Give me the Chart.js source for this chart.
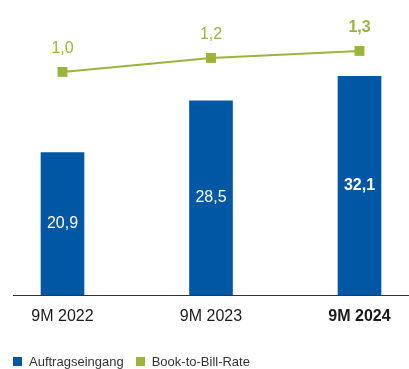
<!DOCTYPE html>
<html>
<head>
<meta charset="utf-8">
<script src="https://cdn.jsdelivr.net/npm/chart.js@4"></script>
<style>
  html, body { margin: 0; padding: 0; background: #fff; }
  #wrap { position: relative; width: 409px; height: 369px; overflow: hidden; }
  #legend { position: absolute; left: 13px; top: 354px; display: flex; align-items: center;
    font: 13px "Liberation Sans", Arial, sans-serif; color: #333; white-space: nowrap; }
  #legend .box { display: inline-block; width: 9px; height: 9px; margin-right: 7px; }
  #legend .item { display: flex; align-items: center; margin-right: 12px; }
</style>
</head>
<body>
<div id="wrap">
  <canvas id="myChart" width="409" height="369"></canvas>
  <div id="legend"></div>
</div>
<script>
// data
let periods = ['9M 2022', '9M 2023', '9M 2024'];
let orderIntake = [20.9, 28.5, 32.1];
let bookToBill = [1.0, 1.2, 1.3];
let seriesNames = ['Auftragseingang', 'Book-to-Bill-Rate'];

let blue = '#0057a3';
let green = '#9bb53a';
let fontFam = '"Liberation Sans", Arial, sans-serif';

function fmt(v){
  return v.toFixed(1).replace('.', ',');
}

// value labels on bars and points
let valueLabels = {
  id: 'valueLabels',
  afterDatasetsDraw(chart){
    let ctx = chart.ctx;
    ctx.save();
    ctx.textAlign = 'center';
    ctx.textBaseline = 'middle';
    chart.getDatasetMeta(0).data.forEach(function(el, i){
      ctx.fillStyle = '#fff';
      ctx.font = (i === 2 ? 'bold ' : '') + '16px ' + fontFam;
      ctx.fillText(fmt(orderIntake[i]), el.x, (el.y + el.base) / 2);
    });
    chart.getDatasetMeta(1).data.forEach(function(el, i){
      ctx.fillStyle = green;
      ctx.font = (i === 2 ? 'bold ' : '') + '16px ' + fontFam;
      ctx.fillText(fmt(bookToBill[i]), el.x, el.y - 23);
    });
    ctx.restore();
  }
};

let ctx = document.getElementById('myChart').getContext('2d');
let myChart = new Chart(ctx, {
  data: {
    datasets: [{
      type: 'bar',
      label: seriesNames[0],
      data: orderIntake.map((v, i) => ({x: i, y: v})),
      backgroundColor: blue,
      barThickness: 43,
      yAxisID: 'y',
      order: 2
    }, {
      type: 'line',
      label: seriesNames[1],
      data: bookToBill.map((v, i) => ({x: i, y: v})),
      borderColor: green,
      borderWidth: 2,
      pointStyle: 'rect',
      pointRadius: 7,
      pointBackgroundColor: green,
      pointBorderWidth: 0,
      yAxisID: 'y2',
      order: 1
    }]
  },
  options: {
    responsive: false,
    animation: false,
    layout: { autoPadding: false, padding: { left: 1, right: 0, top: 2, bottom: 43 } },
    plugins: { legend: { display: false }, tooltip: { enabled: false } },
    scales: {
      x: {
        type: 'linear',
        min: -1/3,
        max: 7/3,
        offset: false,
        afterBuildTicks: function(s){ s.ticks = periods.map((p, i) => ({value: i})); },
        afterFit: function(s){ s.height = 31; s.paddingLeft = 0; s.paddingRight = 0; },
        ticks: {
          callback: function(v){ return periods[v]; },
          font: function(c){ return {family: fontFam, size: 16, weight: c.index === 2 ? 'bold' : 'normal'}; },
          color: '#1a1a1a',
          padding: 12,
          maxRotation: 0,
          autoSkip: false
        },
        grid: { display: false, drawTicks: false, offset: false },
        border: { display: true, color: '#333', width: 1 }
      },
      y: {
        min: 0,
        max: 43,
        ticks: { display: false },
        grid: { display: false, drawTicks: false },
        border: { display: false },
        afterFit: function(s){ s.width = 12; }
      },
      y2: {
        position: 'right',
        display: false,
        min: -2.19,
        max: 2.0
      }
    }
  },
  plugins: [valueLabels]
});

// legend
let legendEl = document.getElementById('legend');
[blue, green].forEach(function(c, i){
  let item = document.createElement('span');
  item.className = 'item';
  let box = document.createElement('span');
  box.className = 'box';
  box.style.background = c;
  item.appendChild(box);
  item.appendChild(document.createTextNode(seriesNames[i]));
  legendEl.appendChild(item);
});
</script>
</body>
</html>
